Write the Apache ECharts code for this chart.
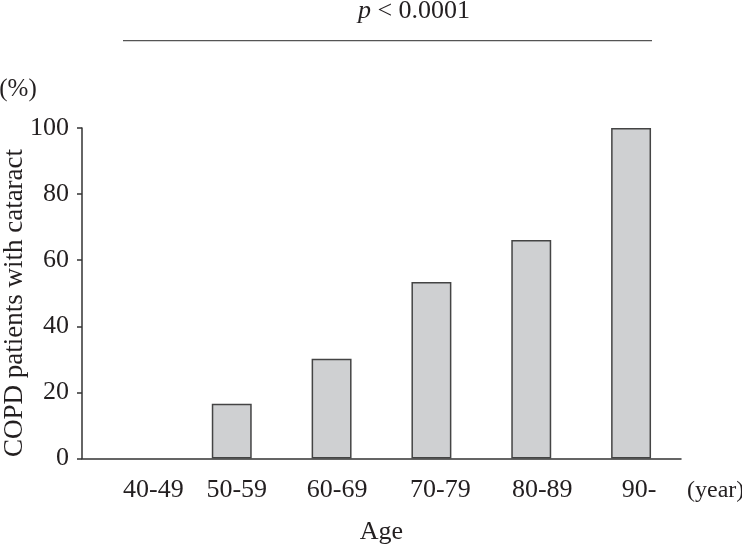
<!DOCTYPE html>
<html><head><meta charset="utf-8">
<script src="https://cdn.jsdelivr.net/npm/echarts@6/dist/echarts.min.js"></script>
<style>html,body{margin:0;padding:0;background:#fff}#c{width:742px;height:545px}</style>
</head><body><div id="c"></div>
<script>
// ---- data ----
const categories = ['40-49', '50-59', '60-69', '70-79', '80-89', '90-'];
const values = [0, 16.6, 30.2, 53.4, 66.1, 100];
const yTicks = [0, 20, 40, 60, 80, 100];
const xAxisTitle = 'Age';
const yAxisTitle = 'COPD patients with cataract';
const unitX = '(year)';
const unitY = '(%)';
const pText = ' < 0.0001';

// ---- chart ----
const FONT = '"Liberation Serif", "Times New Roman", serif';
const INK = '#231f20';
const shift = [21.5, 5, 5.5, 9, 11, 8];
const rich = {};
shift.forEach((s, i) => { rich['l' + i] = { padding: [0, 0, 0, 2 * s] }; });

const barData = values.map(v => (v === 0
  ? { value: v, itemStyle: { borderWidth: 0 } }
  : { value: v }));

const chart = echarts.init(document.getElementById('c'), null, { renderer: 'canvas' });
chart.setOption({
  animation: false,
  backgroundColor: '#fff',
  grid: { left: 82, right: 61, top: 128, bottom: 86.5, containLabel: false, outerBoundsMode: 'none' },
  xAxis: {
    type: 'category',
    data: categories,
    boundaryGap: true,
    axisLine: { lineStyle: { color: '#333', width: 1.5 } },
    axisTick: { show: false },
    axisLabel: {
      interval: 0, margin: 19, fontSize: 26, fontFamily: FONT, color: INK,
      formatter: (v, i) => '{l' + i + '|' + v + '}',
      rich: rich
    },
    name: xAxisTitle,
    nameLocation: 'middle',
    nameGap: 61,
    nameTextStyle: { fontSize: 26, fontFamily: FONT, color: INK }
  },
  yAxis: {
    type: 'value',
    min: yTicks[0], max: yTicks[yTicks.length - 1], interval: yTicks[1] - yTicks[0],
    axisLine: { show: true, lineStyle: { color: '#333', width: 1.5 } },
    axisTick: { show: true, inside: false, length: 5, lineStyle: { color: '#333', width: 1.5 } },
    axisLabel: { margin: 13, fontSize: 26, fontFamily: FONT, color: INK },
    splitLine: { show: false }
  },
  series: [{
    type: 'bar',
    data: barData,
    barWidth: '40%',
    itemStyle: { color: '#cfd0d2', borderColor: '#444', borderWidth: 1.5 }
  }],
  graphic: [
    { type: 'line', shape: { x1: 123, y1: 40.7, x2: 652, y2: 40.7 }, style: { stroke: '#555', lineWidth: 1.3 } },
    { type: 'text', x: 414, y: 11, style: {
        text: '{i|p}' + pText, fontSize: 26, fontFamily: FONT, fill: INK,
        align: 'center', verticalAlign: 'middle',
        rich: { i: { fontStyle: 'italic', fontSize: 26, fontFamily: FONT, fill: INK } } } },
    { type: 'text', x: 18, y: 89, style: { text: unitY, fontSize: 25, fontFamily: FONT, fill: INK, align: 'center', verticalAlign: 'middle' } },
    { type: 'text', x: 687, y: 491, style: { text: unitX, fontSize: 24, fontFamily: FONT, fill: INK, align: 'left', verticalAlign: 'middle' } },
    { type: 'text', x: 15, y: 303, rotation: Math.PI / 2, style: { text: yAxisTitle, fontSize: 27, fontFamily: FONT, fill: INK, align: 'center', verticalAlign: 'middle' } }
  ]
});
</script></body></html>
